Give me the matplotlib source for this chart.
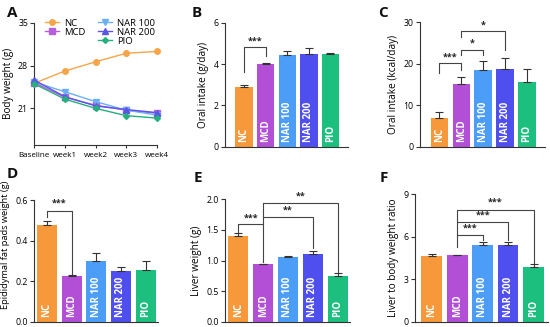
import matplotlib
matplotlib.use("Agg")
import matplotlib.pyplot as plt
from matplotlib.lines import Line2D
import numpy as np

plt.rcParams['font.family'] = ['Open Sans', 'DejaVu Sans']

W, H = 550, 327
groups = ["NC", "MCD", "NAR 100", "NAR 200", "PIO"]
bar_colors = ["#F7993A", "#B24FD6", "#4C9DF7", "#4F4EEE", "#1DBF7F"]
line_colors = ["#F5A54A", "#B65FDB", "#6AB0F2", "#5A55E6", "#25B07E"]
markers = ["o", "s", "v", "^", "D"]

# Panel A: body weight
weeks = ["Baseline", "week1", "week2", "week3", "week4"]
bw_nc = [25.1, 27.1, 28.6, 30.0, 30.3]
bw_mcd = [25.2, 22.8, 21.5, 20.7, 20.2]
bw_nar100 = [25.3, 23.7, 22.1, 20.7, 19.9]
bw_nar200 = [25.6, 22.9, 21.4, 20.8, 20.3]
bw_pio = [25.0, 22.5, 21.0, 19.8, 19.4]

# Panel B: oral intake (g/day)
oi_g = [2.87, 4.00, 4.42, 4.50, 4.47]
oi_g_err = [0.10, 0.07, 0.23, 0.28, 0.08]
# Panel C: oral intake (kcal/day)
oi_k = [7.0, 15.2, 18.5, 18.8, 15.5]
oi_k_err = [1.4, 1.6, 2.1, 2.5, 3.2]
# Panel D: epididymal fat pads weight (g)
fat = [0.475, 0.225, 0.300, 0.250, 0.253]
fat_err = [0.022, 0.007, 0.040, 0.022, 0.047]
# Panel E: liver weight (g)
liver = [1.40, 0.94, 1.06, 1.10, 0.75]
liver_err = [0.05, 0.01, 0.02, 0.06, 0.05]
# Panel F: liver to body weight ratio
ratio = [4.65, 4.68, 5.42, 5.45, 3.88]
ratio_err = [0.13, 0.05, 0.18, 0.20, 0.17]

DARK = "#333333"
TICK_FS = 6.3
LAB_FS = 7.2


def add_ax(l, t, r, b):
    return fig.add_axes([l / W, 1 - b / H, (r - l) / W, (b - t) / H])


def style(ax):
    for s in ["top", "right"]:
        ax.spines[s].set_visible(False)
    for s in ["left", "bottom"]:
        ax.spines[s].set_color(DARK)
        ax.spines[s].set_linewidth(0.8)
    ax.tick_params(axis="y", length=3, width=0.8, color=DARK,
                   labelsize=TICK_FS, pad=1.5)


def bar_panel(ax, vals, errs, ylim, yticks, ylabel, xlim, width=0.81, fmt=None,
              lab_fs=LAB_FS):
    style(ax)
    x = np.arange(len(groups))
    ax.bar(x, vals, width=width, color=bar_colors, zorder=2)
    ax.errorbar(x, vals, yerr=[np.zeros(len(vals)), errs], fmt="none",
                ecolor=DARK, elinewidth=0.8, capsize=2.8, capthick=0.8, zorder=3)
    ax.set_xlim(*xlim)
    ax.set_ylim(*ylim)
    ax.set_yticks(yticks)
    if fmt:
        ax.set_yticklabels([fmt.format(v) for v in yticks])
    ax.set_xticks([])
    ax.set_ylabel(ylabel, fontsize=lab_fs, labelpad=3)
    for xi, g in zip(x, groups):
        ax.annotate(g, (xi, 0), xytext=(0, 3.5), textcoords="offset points",
                    rotation=90, ha="center", va="bottom", color="white",
                    fontsize=7.0, fontweight="bold")


def bracket(ax, x1, x2, y, l1, l2, txt, ty):
    ax.plot([x1, x1, x2, x2], [l1, y, y, l2], color="#444444", lw=0.8,
            zorder=4, clip_on=False)
    ax.text((x1 + x2) / 2, ty, txt, ha="center", va="center", fontsize=6.5,
            fontweight="bold", color="#222222", clip_on=False)


fig = plt.figure(figsize=(W / 100, H / 100), dpi=100)

# ---- Panel A ----
axA = add_ax(34.3, 22.7, 156.7, 145)
style(axA)
series = [bw_nc, bw_mcd, bw_nar100, bw_nar200, bw_pio]
xw = np.arange(len(weeks))
handles = []
for s, c, m, g in zip(series, line_colors, markers, groups):
    ms = 3.0 if m == "D" else 4.0
    h, = axA.plot(xw, s, color=c, marker=m, ms=ms, lw=1.0, label=g,
                  clip_on=False, zorder=3)
    handles.append(h)
axA.set_xlim(0, 4)
axA.set_ylim(15, 35)
axA.set_yticks([21, 28, 35])
axA.set_xticks(xw)
axA.set_xticklabels(weeks)
axA.tick_params(axis="x", length=2, width=0.8, color=DARK,
                labelsize=5.8, pad=3)
axA.set_ylabel("Body weight (g)", fontsize=LAB_FS, labelpad=3)
blank = Line2D([], [], linestyle="none", marker="none")
axA.legend([handles[0], handles[1], blank, handles[2], handles[3], handles[4]],
           ["NC", "MCD", "", "NAR 100", "NAR 200", "PIO"],
           ncol=2, loc="upper left", bbox_to_anchor=(0.055, 1.065),
           frameon=False, fontsize=6.8, handlelength=1.5,
           handletextpad=0.5, columnspacing=1.4, labelspacing=0.0,
           borderaxespad=0.0)

# ---- Panel B ----
axB = add_ax(225, 22.7, 348, 146.7)
bar_panel(axB, oi_g, oi_g_err, (0, 6), [0, 2, 4, 6], "Oral intake (g/day)",
          (-0.88, 4.81))
bracket(axB, 0, 1, 4.82, 3.6, 4.4, "***", 5.1)

# ---- Panel C ----
axC = add_ax(420, 22.3, 545, 146.7)
bar_panel(axC, oi_k, oi_k_err, (0, 30), [0, 10, 20, 30], "Oral intake (kcal/day)",
          (-0.89, 4.82))
bracket(axC, 0, 1, 20.2, 17.7, 18.4, "***", 21.6)
bracket(axC, 1, 2, 23.2, 22.2, 22.2, "*", 25.0)
bracket(axC, 1, 3, 27.8, 26.4, 23.2, "*", 29.4)

# ---- Panel D ----
axD = add_ax(34, 200, 158, 321.7)
bar_panel(axD, fat, fat_err, (0, 0.6), [0, 0.2, 0.4, 0.6],
          "Epididymal fat pads weight (g)", (-0.52, 4.5), fmt="{:.1f}",
          lab_fs=6.7)
axD.yaxis.set_label_coords(-0.19, 0.63)
bracket(axD, 0, 1, 0.545, 0.515, 0.235, "***", 0.583)

# ---- Panel E ----
axE = add_ax(225, 199.3, 350, 321.7)
bar_panel(axE, liver, liver_err, (0, 2.0), [0, 0.5, 1.0, 1.5, 2.0],
          "Liver weight (g)", (-0.54, 4.5), fmt="{:.1f}")
bracket(axE, 0, 1, 1.59, 1.47, 0.97, "***", 1.70)
bracket(axE, 1, 3, 1.716, 1.59, 1.20, "**", 1.83)
bracket(axE, 1, 4, 1.944, 1.716, 0.82, "**", 2.05)

# ---- Panel F ----
axF = add_ax(415, 194.3, 548, 321.7)
bar_panel(axF, ratio, ratio_err, (0, 9), [0, 3, 6, 9],
          "Liver to body weight ratio", (-0.66, 4.57))
bracket(axF, 1, 2, 6.16, 5.3, 5.77, "***", 6.64)
bracket(axF, 1, 3, 7.06, 6.16, 5.77, "***", 7.54)
bracket(axF, 1, 4, 7.88, 7.06, 4.12, "***", 8.43)

# ---- Panel letters ----
for lab, (px, py) in zip("ABCDEF", [(7, 13), (192, 13), (378, 13),
                                     (7, 174), (194, 178), (380, 178)]):
    fig.text(px / W, 1 - py / H, lab, fontsize=11, fontweight="bold",
             ha="left", va="center", color="#111111")

fig.savefig("out.png", dpi=100)
